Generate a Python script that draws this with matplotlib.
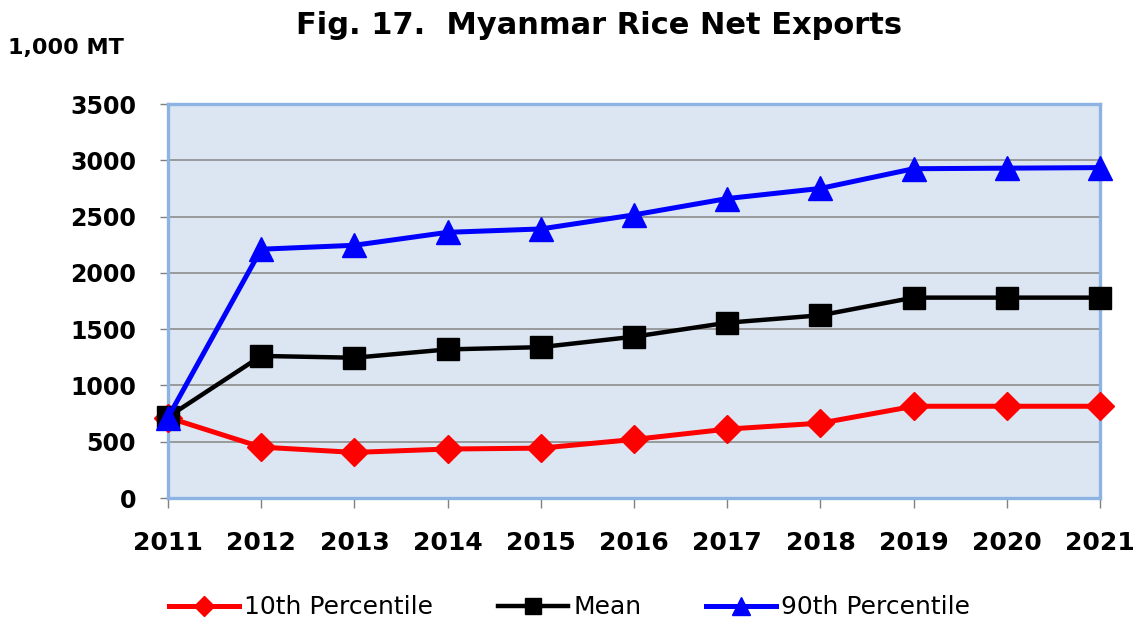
import numpy as np
import matplotlib
matplotlib.use("Agg")
import matplotlib.pyplot as plt

years = [2011, 2012, 2013, 2014, 2015, 2016, 2017, 2018, 2019, 2020, 2021]
p10 = [715, 452, 405, 435, 443, 520, 612, 665, 815, 815, 815]
mean = [720, 1262, 1246, 1320, 1340, 1433, 1557, 1623, 1780, 1780, 1780]
p90 = [715, 2210, 2245, 2360, 2390, 2515, 2660, 2750, 2925, 2930, 2935]
yticks = [0, 500, 1000, 1500, 2000, 2500, 3000, 3500]

plt.rcParams['font.family'] = 'DejaVu Sans'

fig = plt.figure(figsize=(11.42, 6.34), dpi=100)
ax = fig.add_axes([168 / 1142, 136 / 634, 932 / 1142, 394 / 634])
ax.set_facecolor('#DCE6F2')

ax.plot(years, p10, color='#FF0000', lw=3.6, marker='D', ms=14,
        label='10th Percentile', clip_on=False, zorder=3)
ax.plot(years, mean, color='black', lw=3.2, marker='s', ms=16,
        label='Mean', clip_on=False, zorder=4)
ax.plot(years, p90, color='#0000FF', lw=3.6, marker='^', ms=17,
        label='90th Percentile', clip_on=False, zorder=5)

ax.set_xlim(2011, 2021)
ax.set_ylim(0, 3500)
ax.set_xticks(years)
ax.set_yticks(yticks)
ax.yaxis.grid(True, color='#8C8C8C', lw=1.2)
ax.set_axisbelow(True)

for s in ax.spines.values():
    s.set_color('#8DB3E2')
    s.set_linewidth(2.4)

ax.tick_params(axis='y', length=6, width=1, color='#808080', pad=17,
               labelsize=17)
ax.tick_params(axis='x', length=7, width=1, color='#808080', pad=17,
               labelsize=18)
for lab in ax.get_xticklabels() + ax.get_yticklabels():
    lab.set_fontweight('bold')

fig.text(0.525, 0.960, 'Fig. 17.  Myanmar Rice Net Exports', ha='center',
         va='center', fontsize=22, fontweight='bold')
fig.text(0.007, 0.924, '1,000 MT', ha='left', va='center', fontsize=16,
         fontweight='bold')

fig.legend(loc='center', bbox_to_anchor=(0.499, 0.042), ncol=3,
           frameon=False, fontsize=18, handlelength=2.8, handletextpad=0.2,
           columnspacing=2.6, markerscale=0.75)

fig.savefig('out.png', dpi=100)
